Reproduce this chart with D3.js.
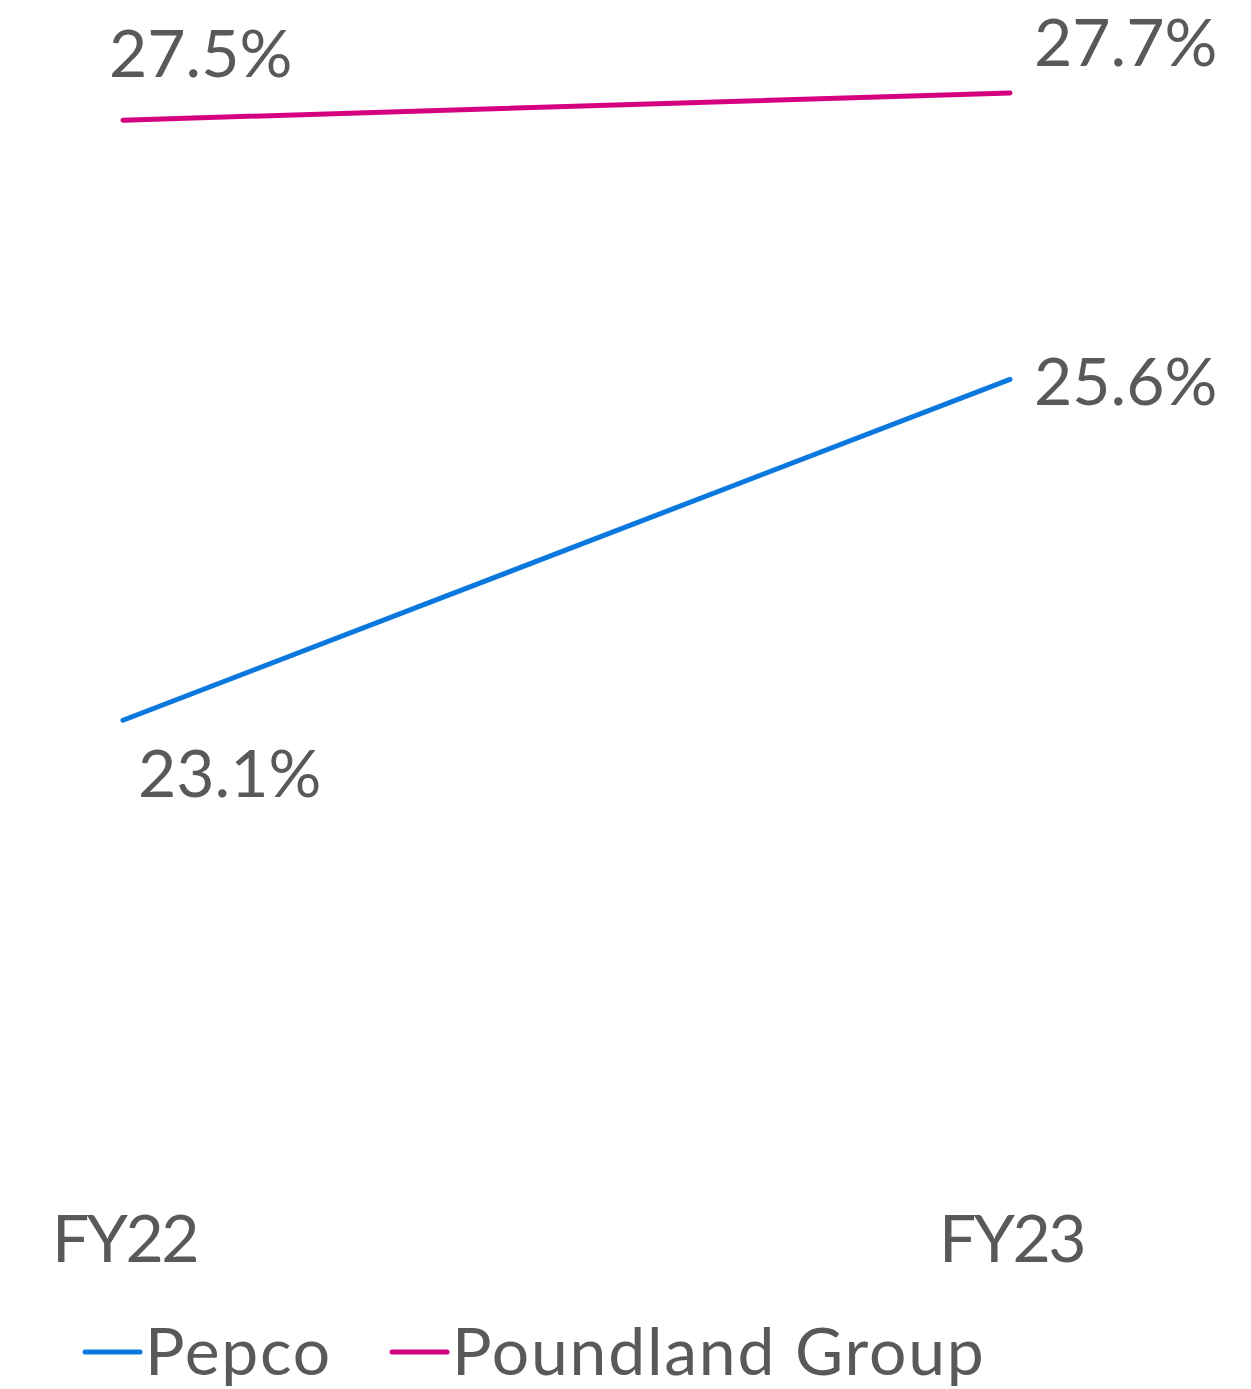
<!DOCTYPE html>
<html><head><meta charset="utf-8">
<script src="https://cdn.jsdelivr.net/npm/d3@7"></script>
<style>html,body{margin:0;padding:0;background:#fff;}text{font-family:Lato,"Open Sans",sans-serif;fill:#595959;}</style>
</head><body>
<svg id="chart" width="1251" height="1389"></svg>
<script>
const categories = ["FY22", "FY23"];
const seriesNames = ["Pepco", "Poundland Group"];
const pepco = [23.1, 25.6];
const poundland = [27.5, 27.7];
const colors = ["#0A78DC", "#D4007F"];

const svg = d3.select("#chart");
const x = d3.scalePoint().domain(categories).range([123, 1010]);
const y = d3.scaleLinear().domain([20, 28]).range([1143, 52]);
const fs = 66;

const series = [
  {name: seriesNames[0], values: pepco, color: colors[0],
   labelOffsets: [[15, 77, "start"], [24, 26, "start"]]},
  {name: seriesNames[1], values: poundland, color: colors[1],
   labelOffsets: [[-14, -43, "start"], [24, -27, "start"]]}
];

const line = d3.line().x((d, i) => x(categories[i])).y(d => y(d));

series.forEach(s => {
  svg.append("path").datum(s.values)
    .attr("d", line).attr("fill", "none")
    .attr("stroke", s.color).attr("stroke-width", 5)
    .attr("stroke-linecap", "round");
  svg.selectAll(null).data(s.values).enter().append("text")
    .attr("x", (d, i) => x(categories[i]) + s.labelOffsets[i][0])
    .attr("y", (d, i) => y(d) + s.labelOffsets[i][1])
    .attr("text-anchor", (d, i) => s.labelOffsets[i][2])
    .attr("font-size", fs)
    .text(d => d.toFixed(1) + "%");
});

// x axis labels (no axis line)
const xAxis = d3.axisBottom(x).tickSize(0).tickPadding(0);
const gx = svg.append("g").attr("transform", "translate(1,1262)").call(xAxis);
gx.select(".domain").remove();
gx.selectAll("text").attr("font-size", fs).attr("dy", 0).attr("fill", "#595959")
  .attr("letter-spacing", -2.5)
  .style("font-family", "Lato,'Open Sans',sans-serif");

// legend
const legendX = [85, 392];
series.forEach((s, i) => {
  const g = svg.append("g").attr("transform", `translate(${legendX[i]},1352)`);
  g.append("line").attr("x1", 0).attr("x2", 55).attr("y1", 0).attr("y2", 0)
    .attr("stroke", s.color).attr("stroke-width", 5).attr("stroke-linecap", "round");
  g.append("text").attr("x", 60).attr("y", 23).attr("font-size", fs)
    .attr("letter-spacing", 1.8).text(s.name);
});
</script>
</body></html>
